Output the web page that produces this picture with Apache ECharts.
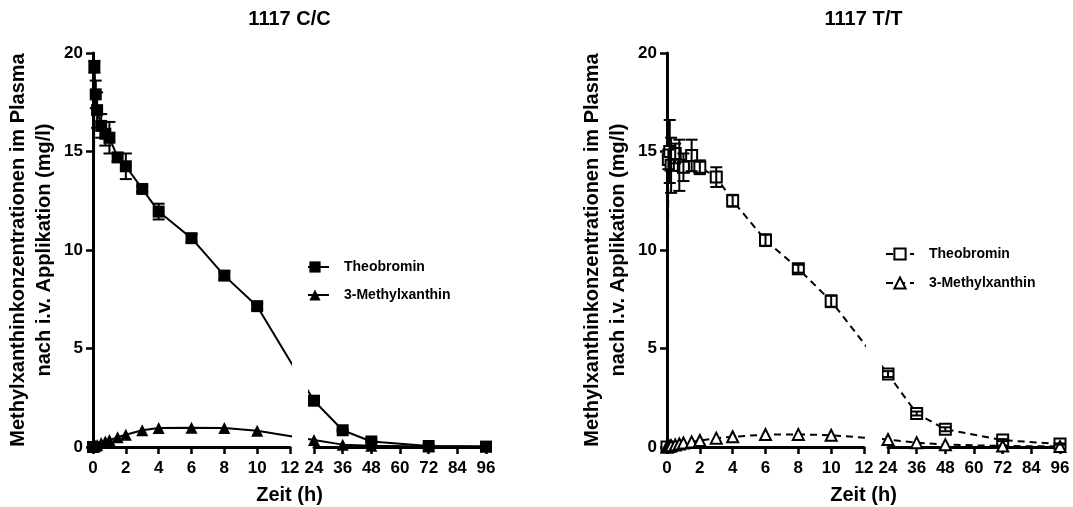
<!DOCTYPE html>
<html>
<head>
<meta charset="utf-8">
<script src="https://cdn.jsdelivr.net/npm/echarts@6/dist/echarts.min.js"></script>
<style>
  html, body { margin: 0; padding: 0; background: #fff; }
  #chart { width: 1073px; height: 507px; }
</style>
</head>
<body>
<div id="chart"></div>
<script>
// Zeitpunkte (h)
var zeit = [0, 0.083, 0.167, 0.25, 0.5, 0.75, 1, 1.5, 2, 3, 4, 6, 8, 10, 24, 36, 48, 72, 96];

// 1117 C/C
var theoCC   = [0, 19.3, 17.9, 17.1, 16.3, 15.9, 15.7, 14.7, 14.25, 13.1, 11.95, 10.6, 8.7, 7.15, 2.35, 0.85, 0.28, 0.05, 0.02];
var theoCCsd = [0, 0.3, 0.7, 0.9, 0.6, 0.6, 0.8, 0.2, 0.65, 0.15, 0.4, 0.2, 0.2, 0.15, 0.1, 0.05, 0.05, 0.02, 0.01];
var mxCC     = [0, 0.03, 0.06, 0.1, 0.2, 0.28, 0.35, 0.5, 0.62, 0.85, 0.96, 0.98, 0.97, 0.83, 0.35, 0.12, 0.06, 0.03, 0.02];

// 1117 T/T
var theoTT   = [0, 14.6, 15.0, 14.3, 14.9, 14.3, 14.2, 14.8, 14.2, 13.7, 12.5, 10.5, 9.05, 7.4, 3.7, 1.7, 0.9, 0.35, 0.15];
var theoTTsd = [0, 0.5, 1.6, 1.4, 0.5, 1.3, 0.7, 0.8, 0.35, 0.5, 0.3, 0.3, 0.2, 0.3, 0.15, 0.1, 0.1, 0.05, 0.03];
var mxTT     = [0, 0.02, 0.04, 0.06, 0.1, 0.15, 0.2, 0.26, 0.33, 0.45, 0.52, 0.63, 0.64, 0.6, 0.38, 0.22, 0.12, 0.05, 0.03];

// Achsenteilung
var yTicks     = [0, 5, 10, 15, 20];
var xTicksKurz = [0, 2, 4, 6, 8, 10, 12];
var xTicksLang = [24, 36, 48, 60, 72, 84, 96];

var FONT = "'Liberation Sans', Arial, sans-serif";

// Pixelbreiten der beiden Achsenabschnitte und der Lücke
var L1 = 197, GAP = 24, L2 = 172, W = L1 + GAP + L2;
var TOP = 53, H = 394;

var kurzMax = xTicksKurz[xTicksKurz.length - 1];
var langMin = xTicksLang[0], langMax = xTicksLang[xTicksLang.length - 1];

// Zeit -> Position auf der durchgehenden (unsichtbaren) Achse
function bruch(t) {
    return t <= kurzMax ? t / kurzMax * L1 : L1 + GAP + (t - langMin) / (langMax - langMin) * L2;
}

function fehlerbalken(params, api) {
    var x = api.value(0), lo = api.value(1), hi = api.value(2);
    var a = api.coord([x, hi]), b = api.coord([x, lo]);
    var st = { stroke: '#000', lineWidth: 2, fill: null };
    return {
        type: 'group',
        children: [
            { type: 'line', shape: { x1: a[0], y1: a[1], x2: b[0], y2: b[1] }, style: st },
            { type: 'line', shape: { x1: a[0] - 6, y1: a[1], x2: a[0] + 6, y2: a[1] }, style: st },
            { type: 'line', shape: { x1: b[0] - 6, y1: b[1], x2: b[0] + 6, y2: b[1] }, style: st }
        ]
    };
}

var panels = [
    { x0: 93,  title: '1117 C/C', key: 'CC', theo: theoCC, sd: theoCCsd, mx: mxCC, offen: false, legTop: 260, legLeft: 300 },
    { x0: 667, title: '1117 T/T', key: 'TT', theo: theoTT, sd: theoTTsd, mx: mxTT, offen: true,  legTop: 247, legLeft: 885 }
];

var grid = [], xAxis = [], yAxis = [], series = [], title = [], legend = [], graphic = [];

var achsLinie = { show: true, lineStyle: { color: '#000', width: 3 } };
var achsTick = { show: true, inside: false, length: 7, lineStyle: { color: '#000', width: 2.5 } };
var achsLabel = { color: '#000', fontFamily: FONT, fontWeight: 'bold', fontSize: 17 };

panels.forEach(function (p, k) {
    var g = k * 3;
    // Grid für die Daten (ganze Breite), danach die zwei sichtbaren x-Abschnitte
    grid.push({ left: p.x0, top: TOP, width: W, height: H });
    grid.push({ left: p.x0, top: TOP, width: L1, height: H });
    grid.push({ left: p.x0 + L1 + GAP, top: TOP, width: L2, height: H });

    xAxis.push({ gridIndex: g, type: 'value', min: 0, max: W, show: false });
    xAxis.push({
        gridIndex: g + 1, type: 'value', min: xTicksKurz[0], max: kurzMax,
        interval: xTicksKurz[1] - xTicksKurz[0],
        axisLine: achsLinie, axisTick: achsTick, splitLine: { show: false },
        axisLabel: Object.assign({ margin: 13 }, achsLabel)
    });
    xAxis.push({
        gridIndex: g + 2, type: 'value', min: langMin, max: langMax,
        interval: xTicksLang[1] - xTicksLang[0],
        axisLine: achsLinie, axisTick: achsTick, splitLine: { show: false },
        axisLabel: Object.assign({ margin: 13 }, achsLabel)
    });

    yAxis.push({
        gridIndex: g, type: 'value', min: yTicks[0], max: yTicks[yTicks.length - 1],
        interval: yTicks[1] - yTicks[0],
        axisLine: achsLinie, axisTick: achsTick, splitLine: { show: false },
        axisLabel: Object.assign({ margin: 10 }, achsLabel)
    });
    yAxis.push({ gridIndex: g + 1, type: 'value', min: 0, max: 20, show: false });
    yAxis.push({ gridIndex: g + 2, type: 'value', min: 0, max: 20, show: false });

    var linie = { color: '#000', width: 2, type: p.offen ? [7, 5] : 'solid' };
    var punkt = p.offen
        ? { color: '#fff', borderColor: '#000', borderWidth: 2 }
        : { color: '#000', borderColor: '#000', borderWidth: 0 };

    series.push({
        name: 'Theobromin|' + p.key, type: 'line', xAxisIndex: g, yAxisIndex: g,
        data: zeit.map(function (t, i) { return [bruch(t), p.theo[i]]; }),
        symbol: 'rect', symbolSize: p.offen ? 11 : 12, showAllSymbol: true,
        lineStyle: linie, itemStyle: punkt, z: 3, animation: false
    });
    series.push({
        name: '3-Methylxanthin|' + p.key, type: 'line', xAxisIndex: g, yAxisIndex: g,
        data: zeit.map(function (t, i) { return [bruch(t), p.mx[i]]; }),
        symbol: 'triangle', symbolSize: p.offen ? 11 : 12, showAllSymbol: true,
        lineStyle: linie, itemStyle: punkt, z: 3, animation: false
    });
    series.push({
        type: 'custom', xAxisIndex: g, yAxisIndex: g, z: 4, animation: false,
        renderItem: fehlerbalken,
        data: zeit.map(function (t, i) {
            return [bruch(t), p.theo[i] - p.sd[i], p.theo[i] + p.sd[i]];
        }).filter(function (d, i) { return p.sd[i] > 0; })
    });

    legend.push({
        orient: 'vertical', left: p.legLeft, top: p.legTop, padding: 0,
        itemWidth: 28, itemHeight: 14, itemGap: p.offen ? 15 : 14,
        selectedMode: false,
        data: ['Theobromin|' + p.key, '3-Methylxanthin|' + p.key],
        formatter: function (n) { return n.split('|')[0]; },
        textStyle: { color: '#000', fontFamily: FONT, fontWeight: 'bold', fontSize: 14, padding: [0, 0, 0, 10] }
    });

    title.push({
        text: p.title, left: p.x0 + W / 2, top: 9, textAlign: 'center', padding: 0,
        textStyle: { color: '#000', fontFamily: FONT, fontWeight: 'bold', fontSize: 20 }
    });

    // Lücke zwischen 12 h und 24 h freihalten
    graphic.push({
        type: 'rect', z: 100,
        shape: { x: p.x0 + L1 + 2, y: TOP - 10, width: GAP - 8, height: H + 7 },
        style: { fill: '#fff' }
    });
    graphic.push({
        type: 'text', z: 100, x: p.x0 - 62, y: TOP + H / 2, rotation: Math.PI / 2,
        style: {
            text: 'Methylxanthinkonzentrationen im Plasma\nnach i.v. Applikation (mg/l)',
            align: 'center', verticalAlign: 'middle', lineHeight: 26,
            font: 'bold 20px ' + FONT, fill: '#000'
        }
    });
    graphic.push({
        type: 'text', z: 100, x: p.x0 + W / 2, y: 495,
        style: {
            text: 'Zeit (h)', align: 'center', verticalAlign: 'middle',
            font: 'bold 20px ' + FONT, fill: '#000'
        }
    });
});

var chart = echarts.init(document.getElementById('chart'));
chart.setOption({
    animation: false,
    title: title,
    legend: legend,
    grid: grid,
    xAxis: xAxis,
    yAxis: yAxis,
    series: series,
    graphic: graphic
});
</script>
</body>
</html>
